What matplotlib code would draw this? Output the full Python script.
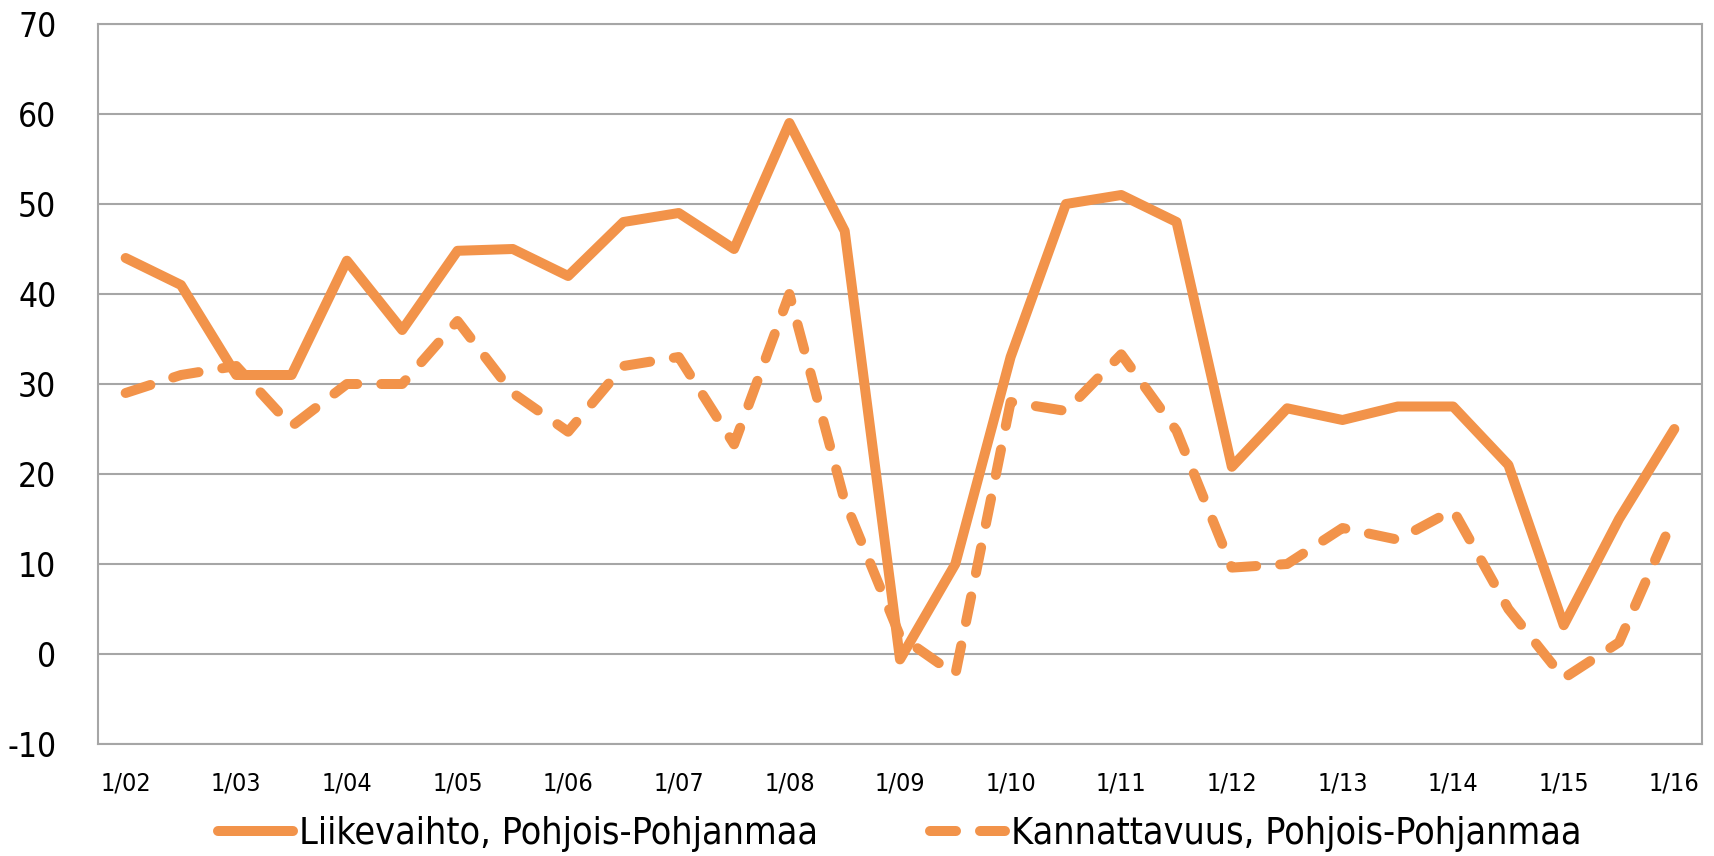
import numpy as np
import matplotlib.pyplot as plt

plt.rcParams['font.family'] = ['DejaVu Sans']
plt.rcParams['font.stretch'] = 'condensed'
plt.rcParams['axes.unicode_minus'] = False

# puolivuosittaiset havainnot 1/02 ... 1/16
vuodet = ['1/02', '1/03', '1/04', '1/05', '1/06', '1/07', '1/08', '1/09',
          '1/10', '1/11', '1/12', '1/13', '1/14', '1/15', '1/16']

liikevaihto = [44, 41, 31, 31, 43.7, 36, 44.8, 45, 42, 48, 49, 45, 59, 47,
               -0.6, 10, 33, 50, 51, 48, 20.8, 27.3, 26, 27.5, 27.5, 21,
               3.2, 15, 25]
kannattavuus = [29, 31, 32, 25.3, 30, 30, 37, 29, 24.7, 32, 33, 23.3, 40, 17,
                2, -2.3, 28, 27, 33.3, 24.8, 9.6, 10, 14, 12.7, 16, 5,
                -2.7, 1.3, 15.3]

nimet = ['Liikevaihto, Pohjois-Pohjanmaa', 'Kannattavuus, Pohjois-Pohjanmaa']

vari = '#F2934A'
harmaa = '#a6a6a6'

fig = plt.figure(figsize=(17.14, 8.56), dpi=100)
ax = fig.add_axes([98 / 1714, 1 - 744 / 856, 1604 / 1714, 720 / 856])

x = np.arange(len(liikevaihto))
ax.plot(x, liikevaihto, color=vari, linewidth=7.2, solid_capstyle='round',
        label=nimet[0], zorder=3)
ax.plot(x, kannattavuus, color=vari, linewidth=7.2, linestyle=(0, (2.6, 2.4)),
        dash_capstyle='round', label=nimet[1], zorder=3)

ax.set_xlim(-0.5, len(x) - 0.5)
ax.set_ylim(-10, 70)
ax.set_yticks(np.arange(-10, 71, 10))
ax.set_xticks(x[::2])
ax.set_xticklabels(vuodet)

# vaakaviivat
ax.grid(True, axis='y', color=harmaa, linewidth=1.5)
ax.set_axisbelow(True)
for s in ax.spines.values():
    s.set_color(harmaa)
    s.set_linewidth(1.5)

ax.tick_params(axis='both', length=0)
ax.tick_params(axis='y', labelsize=24, pad=30)
ax.tick_params(axis='x', labelsize=18, pad=20)

fig.legend(loc='center', bbox_to_anchor=(0.525, 0.026), ncol=2, frameon=False,
           fontsize=27, handlelength=2.0, handletextpad=0.15,
           columnspacing=3.0, borderpad=0)

fig.savefig('out.png', dpi=100)
